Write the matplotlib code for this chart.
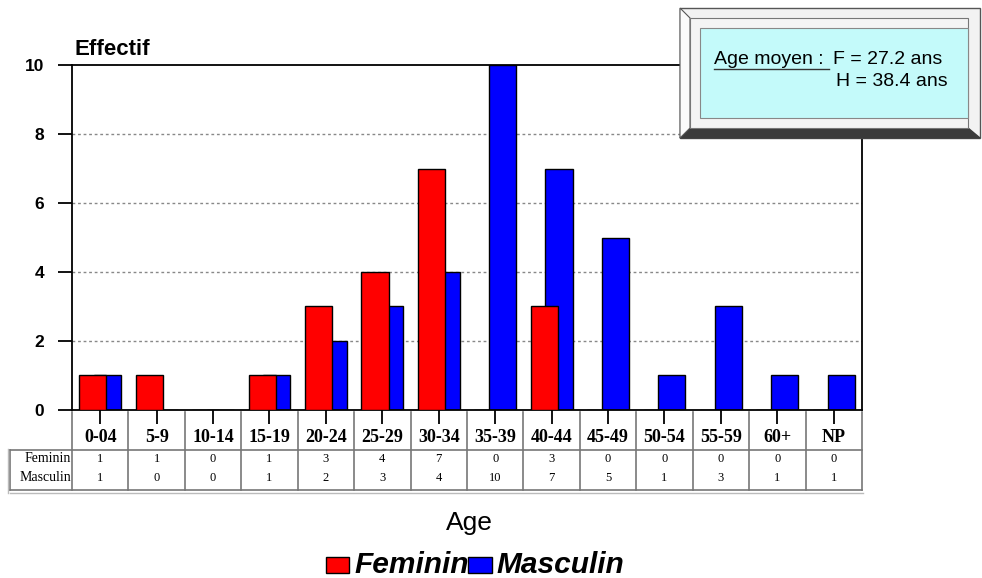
import matplotlib.pyplot as plt
import matplotlib.patches as pts
import numpy as np

categories = ['0-04', '5-9', '10-14', '15-19', '20-24', '25-29', '30-34',
              '35-39', '40-44', '45-49', '50-54', '55-59', '60+', 'NP']
feminin = [1, 1, 0, 1, 3, 4, 7, 0, 3, 0, 0, 0, 0, 0]
masculin = [1, 0, 0, 1, 2, 3, 4, 10, 7, 5, 1, 3, 1, 1]
row_labels = ['Feminin', 'Masculin']

fig = plt.figure(figsize=(9.82, 5.78), dpi=100)
ax = fig.add_axes([0.0733, 0.2907, 0.8045, 0.5968])

x = np.arange(len(categories))
w = 0.48
off = 0.13
ax.bar(x + off, masculin, w, color='#0000FF', edgecolor='black', linewidth=1, zorder=2)
ax.bar(x - off, feminin, w, color='#FF0000', edgecolor='black', linewidth=1, zorder=3)

ax.set_xlim(-0.5, len(categories) - 0.5)
ax.set_ylim(0, 10)
ax.set_yticks([0, 2, 4, 6, 8, 10])
ax.set_yticklabels(['0', '2', '4', '6', '8', '10'], fontsize=12.5, fontweight='bold',
                   family='Liberation Sans')
for g in [2, 4, 6, 8]:
    ax.axhline(g, color='#888888', linestyle=(0, (2, 2)), linewidth=1, zorder=1)
ax.tick_params(axis='y', length=10, width=1.3, pad=10)
ax.tick_params(axis='x', length=10, width=1.3, direction='out')
ax.set_xticks(x)
ax.set_xticklabels([])
for s in ax.spines.values():
    s.set_linewidth(1.3)

# table under the axis
tr = ax.get_xaxis_transform()
y_top, y_h, y_f, y_bot = -0.006, -0.116, -0.168, -0.232
for i, c in enumerate(categories):
    ax.text(i, -0.081, c, transform=tr, ha='center', va='center', fontsize=13,
            fontweight='bold', family='Liberation Serif', clip_on=False)
    ax.text(i, -0.142, str(feminin[i]), transform=tr, ha='center', va='center',
            fontsize=9, family='Liberation Serif', clip_on=False)
    ax.text(i, -0.197, str(masculin[i]), transform=tr, ha='center', va='center',
            fontsize=9, family='Liberation Serif', clip_on=False)
ax.text(-0.52, -0.142, row_labels[0], transform=tr, ha='right', va='center',
        fontsize=10, family='Liberation Serif', clip_on=False)
ax.text(-0.52, -0.197, row_labels[1], transform=tr, ha='right', va='center',
        fontsize=10, family='Liberation Serif', clip_on=False)

tc = '#777777'
for b in np.arange(-0.5, len(categories), 1.0):
    ax.plot([b, b], [y_top, y_bot], transform=tr, color=tc, lw=1.2, clip_on=False)
xl = -1.6
ax.plot([xl, 13.5], [y_h, y_h], transform=tr, color=tc, lw=1.2, clip_on=False)
ax.plot([xl, 13.5], [y_bot, y_bot], transform=tr, color=tc, lw=1.2, clip_on=False)
ax.plot([xl, 13.52], [y_bot - 0.008, y_bot - 0.008], transform=tr, color='#bbbbbb', lw=1, clip_on=False)
ax.plot([xl, xl], [y_h, y_bot], transform=tr, color=tc, lw=1.2, clip_on=False)
ax.plot([xl - 0.03, xl - 0.03], [y_h + 0.004, y_bot - 0.008], transform=tr, color='#bbbbbb', lw=1, clip_on=False)

fig.text(0.076, 0.905, 'Effectif', fontsize=16, fontweight='bold', family='Liberation Sans')
fig.text(0.478, 0.095, 'Age', fontsize=19, ha='center', va='center', family='Liberation Sans')

# legend
fig.patches.append(pts.Rectangle((0.332, 0.0087), 0.0234, 0.0277, transform=fig.transFigure,
                                 facecolor='#FF0000', edgecolor='black', lw=1))
fig.text(0.3605, 0.0225, 'Feminin', fontsize=21.5, fontweight='bold', style='italic',
         va='center', family='Liberation Sans')
fig.patches.append(pts.Rectangle((0.4766, 0.0087), 0.0244, 0.0277, transform=fig.transFigure,
                                 facecolor='#0000FF', edgecolor='black', lw=1, zorder=5))
fig.text(0.506, 0.0225, 'Masculin', fontsize=21.5, fontweight='bold', style='italic',
         va='center', family='Liberation Sans')

# mean age box (bevelled frame)
def fx(px):
    return px / 982.0

def fy(py):
    return 1 - py / 578.0

outer = [(680, 8), (980, 8), (980, 138), (680, 138)]
fig.patches.append(pts.Polygon([(fx(a), fy(b)) for a, b in outer], closed=True,
                               transform=fig.transFigure, facecolor='#f2f2f2',
                               edgecolor='#555555', lw=1, zorder=5))
bottom = [(680, 138), (980, 138), (968, 128), (690, 128)]
fig.patches.append(pts.Polygon([(fx(a), fy(b)) for a, b in bottom], closed=True,
                               transform=fig.transFigure, facecolor='#3a3a3a',
                               edgecolor='#3a3a3a', lw=1, zorder=6))
left = [(680, 8), (690, 18), (690, 128), (680, 138)]
fig.patches.append(pts.Polygon([(fx(a), fy(b)) for a, b in left], closed=True,
                               transform=fig.transFigure, facecolor='#fafafa',
                               edgecolor='#555555', lw=0.8, zorder=6))
mid = [(690, 18), (968, 18), (968, 128), (690, 128)]
fig.patches.append(pts.Polygon([(fx(a), fy(b)) for a, b in mid], closed=True,
                               transform=fig.transFigure, facecolor='#f4f4f4',
                               edgecolor='#777777', lw=0.8, zorder=6))
inner = [(700, 28), (968, 28), (968, 118), (700, 118)]
fig.patches.append(pts.Polygon([(fx(a), fy(b)) for a, b in inner], closed=True,
                               transform=fig.transFigure, facecolor='#c4fafa',
                               edgecolor='#888888', lw=0.8, zorder=7))
fig.text(fx(714), fy(60), 'Age moyen :', fontsize=14, va='center', family='Liberation Sans',
         zorder=8)
fig.add_artist(plt.Line2D([fx(714), fx(829)], [fy(69), fy(69)], transform=fig.transFigure,
                          color='#333333', lw=1, zorder=8))
fig.text(fx(833), fy(60), 'F = 27.2 ans', fontsize=14, va='center', family='Liberation Sans',
         zorder=8)
fig.text(fx(836), fy(81), 'H = 38.4 ans', fontsize=14, va='center', family='Liberation Sans',
         zorder=8)

plt.savefig('out.png', dpi=100)
